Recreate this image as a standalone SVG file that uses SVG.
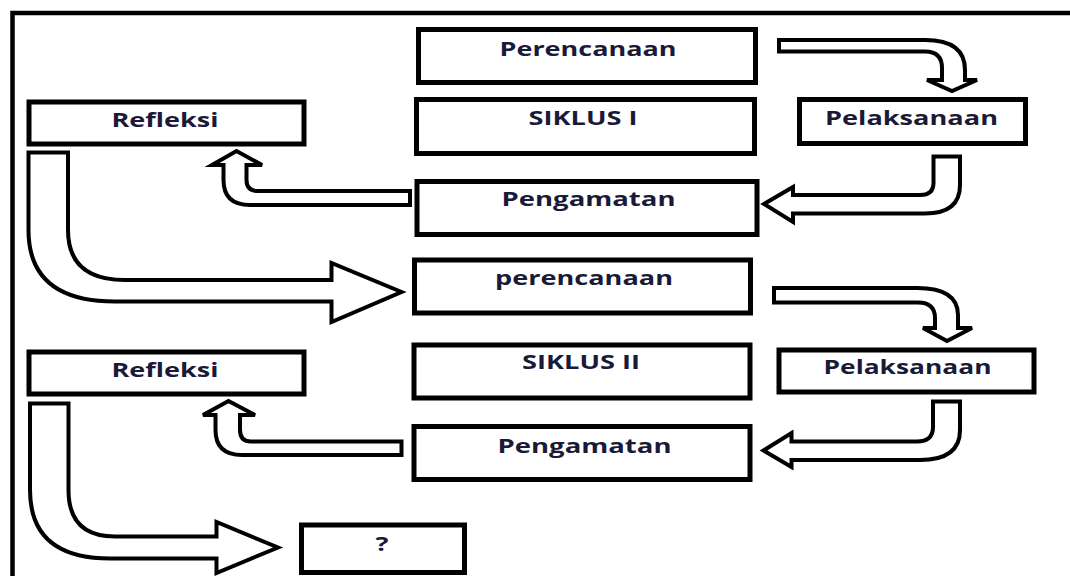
<svg xmlns="http://www.w3.org/2000/svg" width="1070" height="576" viewBox="0 0 1070 576">
<style>
.box{fill:#fff;stroke:#000;stroke-width:5}
.arr{fill:#fff;stroke:#000;stroke-width:4;stroke-linejoin:miter}
.frame{fill:none;stroke:#000;stroke-width:4.5}
.t{font-family:"Open Sans","Noto Sans","DejaVu Sans",sans-serif;font-weight:700;font-size:19px;fill:#1a1a38;text-anchor:middle}
</style>
<rect width="1070" height="576" fill="#fff"/>
<path class="frame" d="M12.5,580 V13 H1075"/>
<g id="connectors">
<path class="arr" d="M779,40 H925 Q965,40 965,70 V80 H977 L952,91 L927,80 H942 V68 Q942,51.5 925,51.5 H779 Z"/>
<path class="arr" d="M933.5,156.5 H960 V185 Q960,213.5 925,213.5 H793 V222 L764,204 L793,187 V195 H920 Q933.5,195 933.5,183 Z"/>
<path class="arr" d="M410,191 H258 Q246.5,191 246.5,180 V165 H262 L236.5,151 L212,165 H223.5 V180 Q223.5,205 250,205 H410 Z"/>
<path class="arr" d="M28.5,152.5 H68 V230 Q68,280 125,280 H331.5 V263 L401.5,292 L331.5,322 V301.5 H115 Q28.5,301.5 28.5,230 Z"/>
<path class="arr" d="M774,288 H917 Q958,288 958,315 V328 H972 L947,341 L923,328 H935 V318 Q935,302.5 918,302.5 H774 Z"/>
<path class="arr" d="M933,401.5 H960 V430 Q960,460 920,460 H791.5 V467 L763.5,450.5 L791.5,433 V441.5 H917 Q933,441.5 933,427 Z"/>
<path class="arr" d="M401.5,441.5 H251 Q240,441.5 240,430 V415 H255 L228.5,401 L203,415 H215.5 V430 Q215.5,455 242,455 H401.5 Z"/>
<path class="arr" d="M30,403.5 H68.5 V490 Q68.5,536.5 115,536.5 H216.5 V522 L278,547.5 L216.5,573 V558.5 H110 Q30,558.5 30,490 Z"/>
</g>
<g id="perencanaan1"><rect class="box" x="418.5" y="29.5" width="337" height="53"/><text class="t" x="588" y="56" textLength="177" lengthAdjust="spacingAndGlyphs">Perencanaan</text></g>
<g id="siklus1"><rect class="box" x="416.5" y="99.5" width="338" height="54"/><text class="t" x="583" y="125" textLength="109" lengthAdjust="spacingAndGlyphs">SIKLUS I</text></g>
<g id="pelaksanaan1"><rect class="box" x="799.5" y="99.5" width="226" height="44"/><text class="t" x="911.5" y="125" textLength="173" lengthAdjust="spacingAndGlyphs">Pelaksanaan</text></g>
<g id="refleksi1"><rect class="box" x="29" y="102" width="275" height="42"/><text class="t" x="165" y="126.5" textLength="107" lengthAdjust="spacingAndGlyphs">Refleksi</text></g>
<g id="pengamatan1"><rect class="box" x="417" y="181.5" width="340" height="53"/><text class="t" x="588.5" y="206" textLength="174" lengthAdjust="spacingAndGlyphs">Pengamatan</text></g>
<g id="perencanaan2"><rect class="box" x="414.5" y="260" width="336" height="53"/><text class="t" x="584" y="285" textLength="178" lengthAdjust="spacingAndGlyphs">perencanaan</text></g>
<g id="siklus2"><rect class="box" x="414" y="345" width="336" height="53"/><text class="t" x="581" y="368.5" textLength="118" lengthAdjust="spacingAndGlyphs">SIKLUS II</text></g>
<g id="pelaksanaan2"><rect class="box" x="779" y="350" width="255" height="42"/><text class="t" x="907.5" y="374" textLength="168" lengthAdjust="spacingAndGlyphs">Pelaksanaan</text></g>
<g id="refleksi2"><rect class="box" x="29" y="352" width="275" height="42"/><text class="t" x="165" y="376.5" textLength="107" lengthAdjust="spacingAndGlyphs">Refleksi</text></g>
<g id="pengamatan2"><rect class="box" x="414" y="426.5" width="336" height="53"/><text class="t" x="584.5" y="452.5" textLength="174" lengthAdjust="spacingAndGlyphs">Pengamatan</text></g>
<g id="tanya"><rect class="box" x="301.5" y="525" width="163" height="47.5"/><text class="t" x="382" y="551" font-size="20" textLength="13" lengthAdjust="spacingAndGlyphs">?</text></g>
</svg>
